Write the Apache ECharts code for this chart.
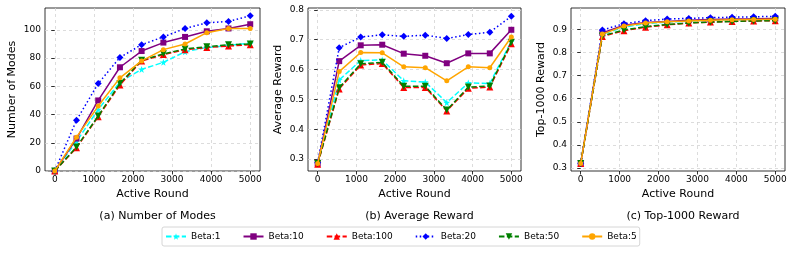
<!DOCTYPE html>
<html>
<head>
<meta charset="utf-8">
<script src="https://cdn.jsdelivr.net/npm/echarts@6/dist/echarts.min.js"></script>
<style>
html,body{margin:0;padding:0;background:#fff;}
#chart{width:793px;height:253px;}
</style>
</head>
<body>
<div id="chart"></div>
<script>
// ---- data ----
var rounds = [0, 556, 1111, 1667, 2222, 2778, 3333, 3889, 4444, 5000];
var xTicks = [0, 1000, 2000, 3000, 4000, 5000];
var modesTicks = [0, 20, 40, 60, 80, 100];
var avgTicks = [0.3, 0.4, 0.5, 0.6, 0.7, 0.8];
var topTicks = [0.3, 0.4, 0.5, 0.6, 0.7, 0.8, 0.9];
var betaNames = ['Beta:1', 'Beta:10', 'Beta:100', 'Beta:20', 'Beta:50', 'Beta:5'];
var panelTitles = ['(a) Number of Modes', '(b) Average Reward', '(c) Top-1000 Reward'];
var yNames = ['Number of Modes', 'Average Reward', 'Top-1000 Reward'];

var modesBeta1   = [0, 21, 43.5, 63, 72, 77, 84.5, 87.5, 89, 90.5];
var modesBeta10  = [0, 23, 50, 73.5, 85, 91, 95, 99, 101, 104];
var modesBeta100 = [0, 16.5, 38.5, 61, 78, 82.5, 86, 87.5, 88.5, 89.5];
var modesBeta20  = [0, 36, 62, 80.5, 89.5, 95, 101, 105, 106, 110];
var modesBeta50  = [0, 17, 39, 62, 78.5, 83, 86.5, 88, 89.5, 90];
var modesBeta5   = [0, 24, 46, 66, 78, 86, 90, 98, 101, 101];

var avgBeta1   = [0.285, 0.565, 0.630, 0.632, 0.562, 0.558, 0.489, 0.555, 0.553, 0.694];
var avgBeta10  = [0.285, 0.628, 0.681, 0.683, 0.653, 0.646, 0.621, 0.654, 0.654, 0.733];
var avgBeta100 = [0.283, 0.535, 0.615, 0.620, 0.540, 0.540, 0.461, 0.537, 0.541, 0.686];
var avgBeta20  = [0.288, 0.673, 0.709, 0.716, 0.711, 0.715, 0.704, 0.717, 0.725, 0.778];
var avgBeta50  = [0.285, 0.539, 0.619, 0.624, 0.544, 0.544, 0.464, 0.541, 0.545, 0.691];
var avgBeta5   = [0.285, 0.593, 0.657, 0.656, 0.609, 0.606, 0.562, 0.609, 0.606, 0.709];

var topBeta1   = [0.32, 0.880, 0.910, 0.925, 0.932, 0.936, 0.940, 0.942, 0.943, 0.944];
var topBeta10  = [0.32, 0.885, 0.918, 0.930, 0.935, 0.940, 0.943, 0.945, 0.946, 0.948];
var topBeta100 = [0.32, 0.870, 0.895, 0.910, 0.920, 0.928, 0.932, 0.935, 0.937, 0.938];
var topBeta20  = [0.32, 0.898, 0.925, 0.938, 0.945, 0.948, 0.951, 0.953, 0.955, 0.957];
var topBeta50  = [0.32, 0.872, 0.898, 0.912, 0.922, 0.928, 0.932, 0.935, 0.937, 0.938];
var topBeta5   = [0.32, 0.880, 0.915, 0.928, 0.933, 0.937, 0.940, 0.942, 0.943, 0.944];

// ---- styles ----
var FONT = 'DejaVu Sans';
var starPath = 'path://M0,-10 L2.35,-3.24 9.51,-3.09 3.8,1.24 5.88,8.09 0,4 -5.88,8.09 -3.8,1.24 -9.51,-3.09 -2.35,-3.24 Z';
var styles = [
  {color: '#00FFFF', type: [5.5, 2.4], symbol: starPath, size: 7, rot: 0},
  {color: '#800080', type: 'solid', symbol: 'rect', size: 6, rot: 0},
  {color: '#FF0000', type: [5.5, 2.4], symbol: 'triangle', size: 7, rot: 0},
  {color: '#0000FF', type: [1.5, 2.5], symbol: 'diamond', size: 7, rot: 0},
  {color: '#008000', type: [5.5, 2.4], symbol: 'triangle', size: 7, rot: 180},
  {color: '#FFA500', type: 'solid', symbol: 'circle', size: 5, rot: 0}
];
var panelData = [
  [modesBeta1, modesBeta10, modesBeta100, modesBeta20, modesBeta50, modesBeta5],
  [avgBeta1, avgBeta10, avgBeta100, avgBeta20, avgBeta50, avgBeta5],
  [topBeta1, topBeta10, topBeta100, topBeta20, topBeta50, topBeta5]
];
var yRanges = [[0, 115.5], [0.26, 0.806], [0.287, 0.993]];
var yTickSets = [modesTicks, avgTicks, topTicks];
var gridLefts = [45, 308, 571];
var gridWidths = [215, 213, 214];

var grids = [], xAxes = [], yAxes = [], series = [], titles = [];
var splitLineStyle = {color: '#d3d3d3', width: 0.8, type: [3, 3]};
for (var p = 0; p < 3; p++) {
  grids.push({left: gridLefts[p], width: gridWidths[p], top: 8, height: 163,
    show: true, borderColor: '#000', borderWidth: 0.8, backgroundColor: 'transparent'});
  xAxes.push({
    type: 'value', gridIndex: p, min: -250, max: 5250,
    name: 'Active Round', nameLocation: 'middle', nameGap: 17,
    nameTextStyle: {fontFamily: FONT, fontSize: 11, color: '#000'},
    axisLine: {show: false},
    axisTick: {show: true, length: 3.5, lineStyle: {color: '#000', width: 0.8}, customValues: xTicks},
    axisLabel: {fontFamily: FONT, fontSize: 9, color: '#000', margin: 4, customValues: xTicks,
      formatter: function (v) { return String(v); }},
    splitLine: {show: true, lineStyle: splitLineStyle}
  });
  yAxes.push({
    type: 'value', gridIndex: p, min: yRanges[p][0], max: yRanges[p][1],
    name: yNames[p], nameLocation: 'middle', nameGap: p === 0 ? 27 : 24,
    nameTextStyle: {fontFamily: FONT, fontSize: 11, color: '#000'},
    axisLine: {show: false},
    axisTick: {show: true, length: 3.5, lineStyle: {color: '#000', width: 0.8}, customValues: yTickSets[p]},
    axisLabel: {fontFamily: FONT, fontSize: 9, color: '#000', margin: 4, customValues: yTickSets[p],
      formatter: function (v) { return v < 1 && v > 0 ? v.toFixed(1) : String(v); }},
    splitLine: {show: true, lineStyle: splitLineStyle}
  });
  titles.push({
    text: panelTitles[p], left: gridLefts[p] + gridWidths[p] / 2, top: 206, textAlign: 'center',
    textStyle: {fontFamily: FONT, fontSize: 11, fontWeight: 'normal', color: '#000'}
  });
  for (var s = 0; s < 6; s++) {
    var st = styles[s];
    var pts = [];
    for (var i = 0; i < rounds.length; i++) pts.push([rounds[i], panelData[p][s][i]]);
    series.push({
      type: 'line', name: betaNames[s], xAxisIndex: p, yAxisIndex: p, data: pts,
      symbol: st.symbol, symbolSize: st.size, symbolRotate: st.rot, showAllSymbol: true,
      animation: false, silent: true,
      lineStyle: {color: st.color, width: 1.5, type: st.type},
      itemStyle: {color: st.color, borderWidth: 0},
      z: 2 + s
    });
  }
}

var chart = echarts.init(document.getElementById('chart'), null, {renderer: 'canvas'});
chart.setOption({
  animation: false,
  backgroundColor: '#fff',
  title: titles,
  grid: grids,
  xAxis: xAxes,
  yAxis: yAxes,
  legend: {
    data: betaNames, left: 162, top: 227, orient: 'horizontal',
    itemWidth: 20, itemHeight: 8, itemGap: 22,
    padding: [5, 3, 5, 3],
    borderColor: '#cccccc', borderWidth: 0.8, borderRadius: 2,
    textStyle: {fontFamily: FONT, fontSize: 9, color: '#000'}
  },
  series: series
});
</script>
</body>
</html>
